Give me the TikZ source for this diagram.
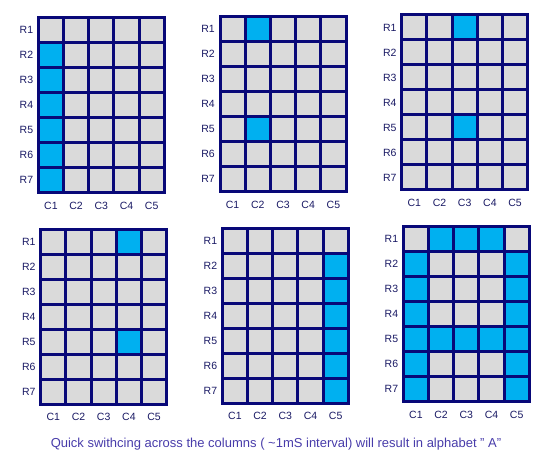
\documentclass[tikz,border=0pt]{standalone}
\usepackage{fontspec}
\setmainfont{Liberation Sans}
\usepackage{xcolor}

\definecolor{gridnavy}{RGB}{8,8,120}
\definecolor{offgray}{RGB}{218,218,218}
\definecolor{ledblue}{RGB}{0,176,240}
\definecolor{labelnavy}{RGB}{25,25,100}
\definecolor{notepurple}{RGB}{72,60,170}

\begin{document}
\begin{tikzpicture}[x=1pt, y=-1pt,
  cell/.style={rectangle, draw=gridnavy, line width=3pt, fill=offgray,
    minimum width=25.2pt, minimum height=25pt, inner sep=0pt},
  lit/.style={fill=ledblue},
  rowlabel/.style={anchor=east, inner sep=0pt, text=labelnavy, font=\fontsize{10.5}{12}\selectfont},
  collabel/.style={inner sep=0pt, text=labelnavy, font=\fontsize{10.5}{12}\selectfont}]

\useasboundingbox (0,0) rectangle (545,462);

% one 5x7 matrix per scan step: number / left / top / lit cells (row/col)
\foreach \g/\gx/\gy/\lit in {
  1/38.3/17.7/{2/1,3/1,4/1,5/1,6/1,7/1},
  2/220/16.7/{1/2,5/2},
  3/401.7/15/{1/3,5/3},
  4/40.7/229.3/{1/4,5/4},
  5/222.3/228.3/{2/5,3/5,4/5,5/5,6/5,7/5},
  6/403.3/226.7/{2/1,3/1,4/1,5/1,6/1,7/1,1/2,1/3,1/4,5/2,5/3,5/4,2/5,3/5,4/5,5/5,6/5,7/5}} {
  \foreach \r in {1,...,7}
    \foreach \c in {1,...,5}
      \node[cell] (g\g-\r-\c) at ({\gx+(\c-0.5)*25.2},{\gy+(\r-0.5)*25}) {};
  \foreach \r/\c in \lit
    \node[cell, lit] (g\g-on-\r-\c) at (g\g-\r-\c) {};
  \foreach \r in {1,...,7}
    \node[rowlabel] (g\g-R\r) at ({\gx-5},{\gy+(\r-0.5)*25}) {R\r};
  \foreach \c in {1,...,5}
    \node[collabel] (g\g-C\c) at ({\gx+(\c-0.5)*25.2},{\gy+188}) {C\c};
}

\node[text=notepurple, font=\fontsize{13}{15}\selectfont, inner sep=0pt] (note) at (276,444)
  {Quick swithcing across the columns ( \textasciitilde1mS interval) will result in alphabet " A"};

\end{tikzpicture}
\end{document}
